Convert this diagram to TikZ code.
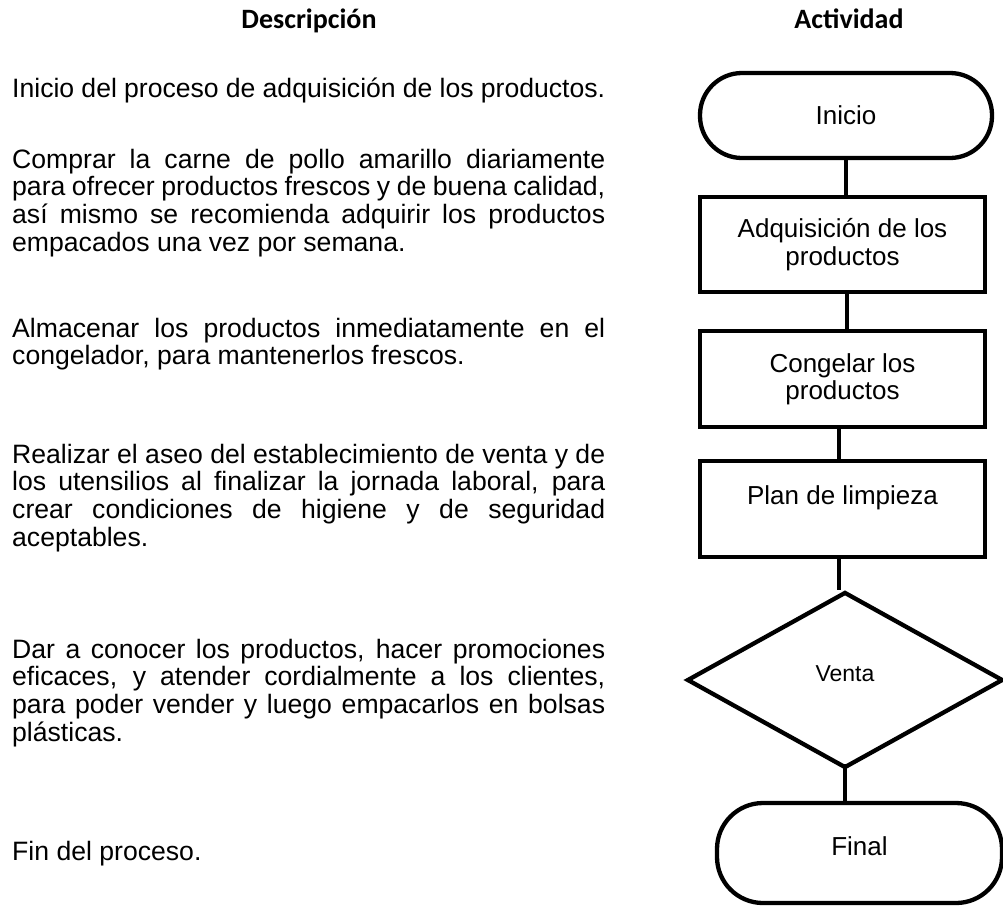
\documentclass[tikz,border=0pt]{standalone}
\usepackage{fontspec}
\setmainfont{Liberation Sans}
\newfontfamily\headfont{Carlito}
\usetikzlibrary{shapes.geometric}
\newcommand{\txtsize}{\fontsize{26.6}{27.8}\selectfont}
\newcommand{\jline}[1]{\makebox[593pt][s]{#1}}
\tikzset{
  term/.style={draw, line width=4.3pt, rounded corners=42pt, inner sep=0pt, font=\fontsize{26}{27.3}\selectfont},
  procbox/.style={draw, line width=4.5pt, inner sep=0pt, minimum width=285pt, align=center, font=\fontsize{26}{27.3}\selectfont},
  decision/.style={draw, diamond, line width=4.3pt, inner sep=0pt, aspect=1.8, minimum width=316pt, minimum height=176pt, font=\fontsize{23}{25}\selectfont},
  conn/.style={line width=4.3pt},
  para/.style={anchor=base west, inner sep=0pt, font=\txtsize},
  head/.style={anchor=base, inner sep=0pt, font=\headfont\bfseries\fontsize{28}{30}\selectfont}
}
\begin{document}
\begin{tikzpicture}[x=1pt,y=-1pt]
\useasboundingbox (0,0) rectangle (1003,906);

% headers
\node[head] (hd) at (309,28) {Descripción};
\node[head] (ha) at (849,28) {Actividad};

% description paragraphs
\node[para] (p1) at (12,97) {\parbox[t]{593pt}{Inicio del proceso de adquisición de los productos.}};
\node[para] (p2) at (12,168) {\parbox[t]{593pt}{%
\jline{Comprar la carne de pollo amarillo diariamente}\\
\jline{para ofrecer productos frescos y de buena calidad,}\\
\jline{así mismo se recomienda adquirir los productos}\\
empacados una vez por semana.}};
\node[para] (p3) at (12,337) {\parbox[t]{593pt}{%
\jline{Almacenar los productos inmediatamente en el}\\
congelador, para mantenerlos frescos.}};
\node[para] (p4) at (12,463) {\parbox[t]{593pt}{%
\jline{Realizar el aseo del establecimiento de venta y de}\\
\jline{los utensilios al finalizar la jornada laboral, para}\\
\jline{crear condiciones de higiene y de seguridad}\\
aceptables.}};
\node[para] (p5) at (12,658) {\parbox[t]{593pt}{%
\jline{Dar a conocer los productos, hacer promociones}\\
\jline{eficaces, y atender cordialmente a los clientes,}\\
\jline{para poder vender y luego empacarlos en bolsas}\\
plásticas.}};
\node[para] (p6) at (12,860) {\parbox[t]{593pt}{Fin del proceso.}};

% flowchart
\node[term, minimum width=292pt, minimum height=85pt] (inicio) at (846,115.5) {Inicio};
\node[procbox, minimum height=95pt] (adq) at (842.5,244.5) {Adquisición de los\\productos};
\node[procbox, minimum height=96pt] (cong) at (842.5,379) {Congelar los\\productos};
\node[procbox, minimum height=96pt] (plan) at (842.5,509) {Plan de limpieza\\\mbox{}};
\node[decision, text depth=13pt] (venta) at (845,680) {Venta};
\node[term, minimum width=285pt, minimum height=100pt, rounded corners=46pt, text depth=14.6pt] (final) at (859.5,853) {Final};

\draw[conn] (inicio) -- (inicio |- adq.north);
\draw[conn] ([xshift=4.5pt]adq.south) -- ([xshift=4.5pt]cong.north);
\draw[conn] ([xshift=-3.5pt]cong.south) -- ([xshift=-3.5pt]plan.north);
\draw[conn] ([xshift=-3.5pt]plan.south) -- ([xshift=-3.5pt]plan.south |- venta.north);
\draw[conn] ([yshift=6pt]venta.south) -- (venta.south |- final.north);
\end{tikzpicture}
\end{document}
